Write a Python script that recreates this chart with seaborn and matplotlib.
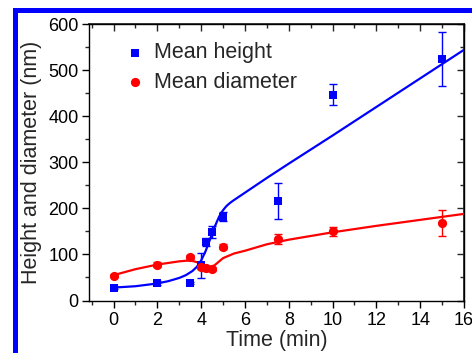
import numpy as np
import pandas as pd
import matplotlib
matplotlib.use("Agg")
import matplotlib.pyplot as plt
import seaborn as sns
from matplotlib.lines import Line2D
from matplotlib.ticker import MultipleLocator

# ---- data ----
time_pts = [0, 2, 3.5, 4, 4.2, 4.5, 5, 7.5, 10, 15]
height = [28, 38, 38, 76, 127, 148, 182, 215, 447, 524]
height_err = [3, 4, 3, 27, 8, 13, 10, 39, 22, 58]
diameter = [54, 78, 94, 73, 70, 68, 117, 134, 150, 168]
diameter_err = [4, 6, 4, 5, 5, 4, 5, 11, 10, 28]

fit_t_h = [0, 1, 2, 2.5, 3, 3.3, 3.6, 3.8, 4.0, 4.2, 4.4, 4.6, 4.8, 4.9, 5.0,
           5.1, 5.2, 5.35, 5.5, 5.75, 6, 7, 8, 10, 12, 14, 16]
fit_height = [28, 31, 37, 42, 49, 55, 64, 73, 87, 107, 132, 158, 180, 189, 196,
              202, 207, 213, 218, 226, 234, 266, 297, 358, 420, 482, 544]
fit_t_d = [0, 1, 2, 3, 3.5, 3.9, 4.2, 4.4, 4.6, 4.8, 5.0, 5.5, 6, 7, 8, 9, 10, 12, 14, 16]
fit_diameter = [55, 68, 78, 85, 87, 82, 75, 73, 76, 84, 92, 102, 108, 122, 132, 140, 148, 162, 175, 188]

xticks = [0, 2, 4, 6, 8, 10, 12, 14, 16]
yticks = [0, 100, 200, 300, 400, 500, 600]

BLUE = "#0000ff"
RED = "#ff0000"

sns.set_theme(style="ticks")
plt.rcParams["font.family"] = ["Liberation Sans", "DejaVu Sans"]

fig = plt.figure(figsize=(4.72, 3.53), dpi=100)
ax = fig.add_axes([0.1896, 0.1487, 0.7934, 0.7833])

pts = pd.DataFrame({"t": time_pts, "h": height, "d": diameter})
ax.errorbar(time_pts, height, yerr=height_err, fmt="none", ecolor=BLUE,
            elinewidth=1.0, capsize=3, capthick=1.0, zorder=2)
ax.errorbar(time_pts, diameter, yerr=diameter_err, fmt="none", ecolor=RED,
            elinewidth=1.0, capsize=3, capthick=1.0, zorder=2)

sns.lineplot(x=fit_t_h, y=fit_height, ax=ax, color=BLUE, lw=1.6, zorder=3)
sns.lineplot(x=fit_t_d, y=fit_diameter, ax=ax, color=RED, lw=1.6, zorder=3)

sns.scatterplot(data=pts, x="t", y="h", ax=ax, marker="s", s=40, color=BLUE,
                edgecolor=BLUE, linewidth=0, label="Mean height", zorder=4)
sns.scatterplot(data=pts, x="t", y="d", ax=ax, marker="o", s=44, color=RED,
                edgecolor=RED, linewidth=0, label="Mean diameter", zorder=4)

ax.set_xlim(-1.1, 16)
ax.set_ylim(0, 600)
ax.set_xticks(xticks)
ax.set_yticks(yticks)
ax.xaxis.set_minor_locator(MultipleLocator(1))
ax.yaxis.set_minor_locator(MultipleLocator(50))
ax.tick_params(which="major", direction="out", length=5, width=1, labelsize=13,
               colors="black", pad=3)
ax.tick_params(which="minor", direction="out", length=3, width=1)
ax.set_xlabel("Time (min)", fontsize=15.5, labelpad=1)
ax.set_ylabel("Height and diameter (nm)", fontsize=15.5, labelpad=4)
for s in ax.spines.values():
    s.set_color("black")
    s.set_linewidth(1.0)

top = ax.secondary_xaxis("top")
top.set_xticks(xticks)
top.xaxis.set_minor_locator(MultipleLocator(1))
top.tick_params(which="major", direction="in", length=5, width=1, labeltop=False)
top.tick_params(which="minor", direction="in", length=3, width=1)
right = ax.secondary_yaxis("right")
right.set_yticks(yticks)
right.yaxis.set_minor_locator(MultipleLocator(50))
right.tick_params(which="major", direction="in", length=5, width=1, labelright=False)
right.tick_params(which="minor", direction="in", length=3, width=1)

leg = ax.legend(loc="upper left", bbox_to_anchor=(0.07, 0.965), frameon=False,
                fontsize=15.5, handlelength=1.0, handletextpad=0.4,
                labelspacing=0.4, borderaxespad=0)

# blue frame (left and top edges visible)
fig.add_artist(Line2D([15 / 472, 15 / 472], [0, 1 - 9.5 / 353],
                      transform=fig.transFigure, color=BLUE, lw=3.6,
                      solid_capstyle="projecting"))
fig.add_artist(Line2D([15 / 472, 1], [1 - 9.5 / 353, 1 - 9.5 / 353],
                      transform=fig.transFigure, color=BLUE, lw=3.6,
                      solid_capstyle="projecting"))

fig.savefig("out.png", dpi=100)
